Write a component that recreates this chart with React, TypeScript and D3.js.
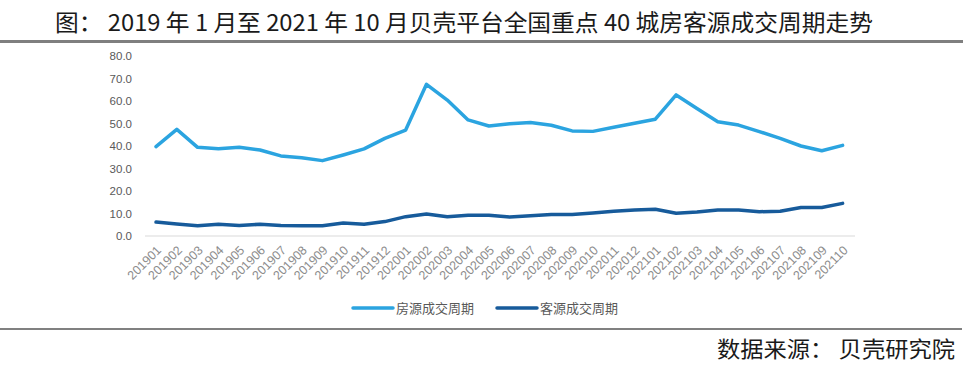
import React from 'react';
import * as d3 from 'd3';

// months 201901 .. 202110
const months = [
  '201901', '201902', '201903', '201904', '201905', '201906', '201907', '201908', '201909', '201910', '201911', '201912',
  '202001', '202002', '202003', '202004', '202005', '202006', '202007', '202008', '202009', '202010', '202011', '202012',
  '202101', '202102', '202103', '202104', '202105', '202106', '202107', '202108', '202109', '202110',
];

// 房源成交周期
const listingCycle = [
  39.7, 47.4, 39.4, 38.8, 39.4, 38.2, 35.6, 34.8, 33.5, 36.0, 38.7, 43.4,
  47.1, 67.4, 60.4, 51.6, 48.9, 49.9, 50.4, 49.2, 46.7, 46.5, 48.3, 50.1,
  51.9, 62.7, 56.7, 50.8, 49.3, 46.4, 43.4, 40.0, 37.9, 40.3,
];

// 客源成交周期
const buyerCycle = [
  6.2, 5.3, 4.6, 5.2, 4.7, 5.2, 4.7, 4.6, 4.6, 5.8, 5.2, 6.4,
  8.6, 9.8, 8.6, 9.2, 9.2, 8.4, 9.0, 9.6, 9.6, 10.2, 11.0, 11.6,
  11.9, 10.1, 10.7, 11.6, 11.6, 10.8, 11.0, 12.7, 12.7, 14.5,
];

const yTicks = [0, 10, 20, 30, 40, 50, 60, 70, 80];

const seriesNames = ['房源成交周期', '客源成交周期'];
const colors = ['#2ba4e0', '#175b9b'];

const W = 965;
const H = 371;

export default function App() {
  const x = d3.scalePoint<string>().domain(months).range([145.6, 853]).padding(0.5);
  const y = d3.scaleLinear().domain([0, 80]).range([236, 56]);

  const line = d3
    .line<number>()
    .x((_, i) => x(months[i]) as number)
    .y((d) => y(d));

  const series = [listingCycle, buyerCycle];

  return (
    <svg
      width={W}
      height={H}
      style={{ position: 'absolute', left: 0, top: 0, background: '#fff' }}
    >
      {/* title */}
      <text
        x={55}
        y={31}
        fontFamily="'Noto Sans CJK SC', sans-serif"
        fontSize={23}
        fill="#1a1a1a"
        textLength={818}
        lengthAdjust="spacingAndGlyphs"
      >
        图： 2019 年 1 月至 2021 年 10 月贝壳平台全国重点 40 城房客源成交周期走势
      </text>
      <line x1={0} x2={963} y1={41.5} y2={41.5} stroke="#7f7f7f" strokeWidth={3} />

      {/* y axis labels */}
      {yTicks.map((t) => (
        <text
          key={t}
          x={132}
          y={y(t)}
          dy="0.35em"
          textAnchor="end"
          fontFamily="'Liberation Sans', Arial, sans-serif"
          fontSize={11.5}
          fill="#595959"
        >
          {t.toFixed(1)}
        </text>
      ))}

      {/* x axis */}
      <line x1={145} x2={855} y1={y(0)} y2={y(0)} stroke="#d9d9d9" strokeWidth={1} />
      {months.map((m) => {
        const px = (x(m) as number) + 6;
        const py = 251;
        return (
          <text
            key={m}
            x={px}
            y={py}
            transform={`rotate(-45, ${px}, ${py})`}
            textAnchor="end"
            fontFamily="'Liberation Sans', Arial, sans-serif"
            fontSize={12.5}
            fill="#8c8c8c"
          >
            {m}
          </text>
        );
      })}

      {/* lines */}
      {series.map((s, i) => (
        <path
          key={i}
          d={line(s) ?? ''}
          fill="none"
          stroke={colors[i]}
          strokeWidth={3.5}
          strokeLinejoin="round"
          strokeLinecap="round"
        />
      ))}

      {/* legend */}
      {seriesNames.map((name, i) => {
        const lx = 353 + i * 144;
        return (
          <g key={name}>
            <line x1={lx} x2={lx + 40} y1={308} y2={308} stroke={colors[i]} strokeWidth={3.5} strokeLinecap="round" />
            <text
              x={lx + 43}
              y={308}
              dy="0.35em"
              fontFamily="'Noto Sans CJK SC', sans-serif"
              fontSize={13}
              fill="#595959"
            >
              {name}
            </text>
          </g>
        );
      })}
      <line x1={0} x2={962} y1={329} y2={329} stroke="#808080" strokeWidth={2} />

      {/* source */}
      <text
        x={955}
        y={357}
        textAnchor="end"
        fontFamily="'Noto Sans CJK SC', sans-serif"
        fontSize={22}
        fill="#1a1a1a"
        textLength={238}
        lengthAdjust="spacingAndGlyphs"
      >
        数据来源： 贝壳研究院
      </text>
    </svg>
  );
}
